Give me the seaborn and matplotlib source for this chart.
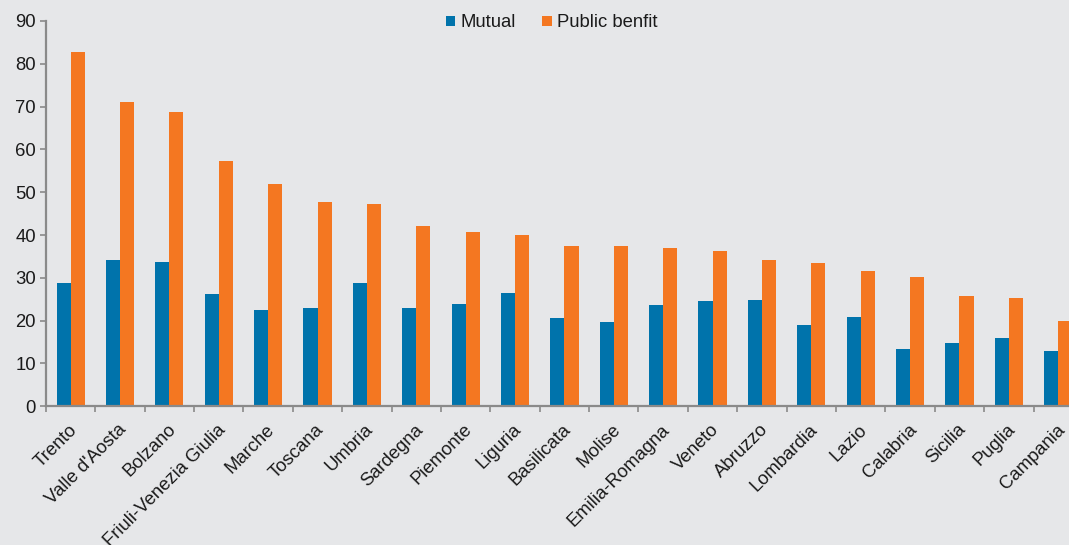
import matplotlib
matplotlib.use("Agg")
import matplotlib.pyplot as plt
import matplotlib.transforms as mtransforms
import numpy as np
import pandas as pd
import seaborn as sns

regions = ["Trento", "Valle d'Aosta", "Bolzano", "Friuli-Venezia Giulia", "Marche",
           "Toscana", "Umbria", "Sardegna", "Piemonte", "Liguria", "Basilicata",
           "Molise", "Emilia-Romagna", "Veneto", "Abruzzo", "Lombardia", "Lazio",
           "Calabria", "Sicilia", "Puglia", "Campania"]
mutual = [28.7, 34.1, 33.8, 26.3, 22.4, 23.0, 28.9, 22.9, 24.0, 26.5, 20.6,
          19.6, 23.7, 24.6, 24.8, 19.0, 20.8, 13.5, 14.8, 16.0, 12.8]
public_benefit = [82.7, 71.0, 68.7, 57.2, 51.9, 47.8, 47.2, 42.2, 40.7, 39.9, 37.4,
                  37.4, 36.9, 36.2, 34.2, 33.5, 31.5, 30.1, 25.8, 25.3, 19.9]
series_names = ["Mutual", "Public benfit"]
yticks = [0, 10, 20, 30, 40, 50, 60, 70, 80, 90]

df = pd.DataFrame({
    "region": regions * 2,
    "value": mutual + public_benefit,
    "series": [series_names[0]] * len(regions) + [series_names[1]] * len(regions),
})

bg = "#e6e7e9"
spine_col = "#8a8a8a"
text_col = "#1a1a1a"
fs = 13.3

sns.set_theme(style="white")
plt.rcParams["font.family"] = ["Liberation Sans", "DejaVu Sans"]

fig = plt.figure(figsize=(10.69, 5.45), dpi=100, facecolor=bg)
ax = fig.add_axes([0.0430, 0.2545, 0.970, 0.707])
ax.set_facecolor(bg)

sns.barplot(data=df, x="region", y="value", hue="series", order=regions,
            hue_order=series_names, palette=["#0073ab", "#f47721"],
            width=0.57, saturation=1, ax=ax, legend=True, edgecolor="none")

ax.set_ylim(0, 90)
ax.set_xlim(-0.5, len(regions) - 0.5)
ax.set_yticks(yticks)
ax.set_xlabel("")
ax.set_ylabel("")

for side in ["top", "right"]:
    ax.spines[side].set_visible(False)
for side in ["left", "bottom"]:
    ax.spines[side].set_color(spine_col)
    ax.spines[side].set_linewidth(1.6)

ax.tick_params(axis="y", direction="out", length=4.3, width=1.2, color=spine_col,
               labelsize=fs, labelcolor=text_col, pad=3, left=True)

# category labels at centres, tick marks at the boundaries
ax.set_xticks(np.arange(len(regions)))
ax.set_xticklabels(regions, rotation=45, ha="right", va="center",
                   rotation_mode="anchor", fontsize=fs, color=text_col)
ax.tick_params(axis="x", which="major", length=0, pad=15)
ax.set_xticks(np.arange(len(regions) + 1) - 0.5, minor=True)
ax.tick_params(axis="x", which="minor", direction="out", length=4.3, width=1.2,
               color=spine_col, bottom=True)
offset = mtransforms.ScaledTranslation(4 / 100, 0, fig.dpi_scale_trans)
for lbl in ax.get_xticklabels():
    lbl.set_transform(lbl.get_transform() + offset)

ax.legend(loc="center", bbox_to_anchor=(0.516, 0.958), bbox_transform=fig.transFigure,
          ncol=2, frameon=False, fontsize=fs, handlelength=0.5, handleheight=0.5,
          handletextpad=0.27, columnspacing=1.45, labelcolor=text_col)

fig.savefig("out.png", dpi=100, facecolor=bg)
